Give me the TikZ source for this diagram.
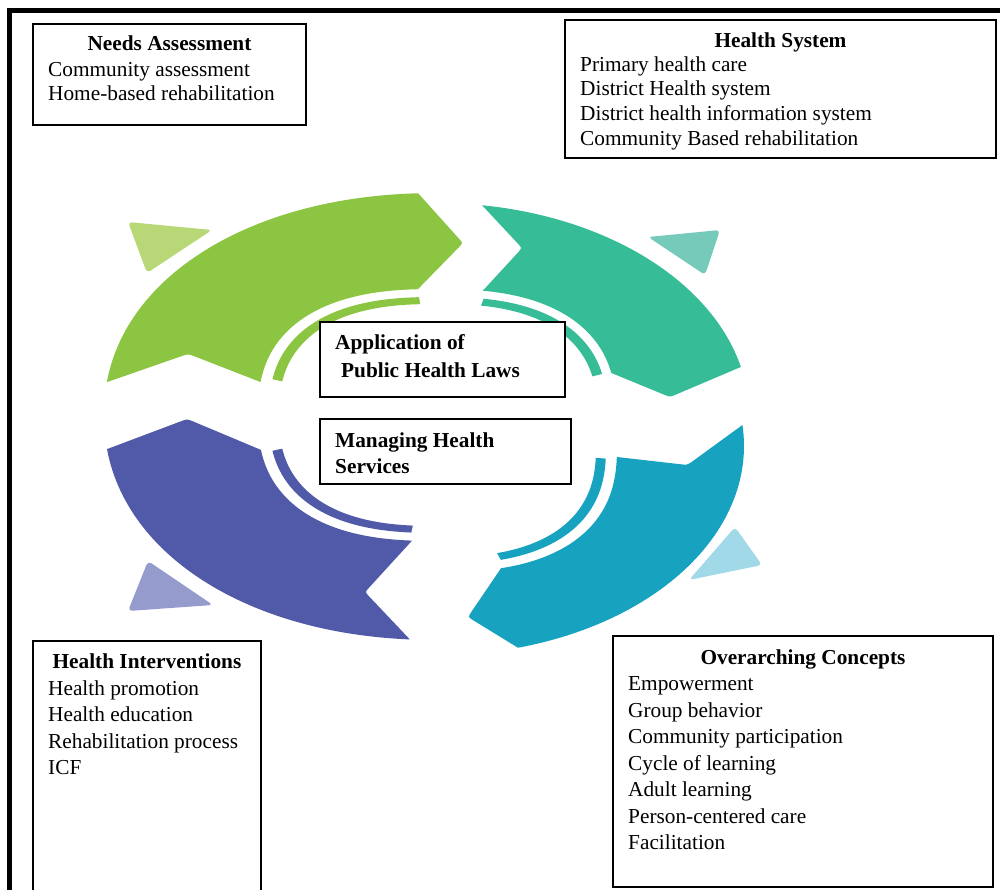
\documentclass[tikz,border=0pt]{standalone}
\usepackage{fontspec}
\setmainfont{Liberation Serif}
\definecolor{grA}{HTML}{8BC541}
\definecolor{grB}{HTML}{B8D878}
\definecolor{tlA}{HTML}{37BC98}
\definecolor{tlB}{HTML}{76CAB9}
\definecolor{blA}{HTML}{505AA8}
\definecolor{blB}{HTML}{959BCC}
\definecolor{cyA}{HTML}{17A2C0}
\definecolor{cyB}{HTML}{A1D9E8}
\begin{document}
\begin{tikzpicture}[x=1pt,y=-1pt,
  % superellipse helpers: exponent q = 1 gives a plain ellipse
  declare function={sc(\a,\q)=cos(\a)*(abs(cos(\a))+0.0001)^(\q-1);
                    ss(\a,\q)=sin(\a)*(abs(sin(\a))+0.0001)^(\q-1);},
  box/.style={draw=black, line width=1.2pt, fill=white, inner sep=0pt},
  txt/.style={inner sep=0pt, anchor=base west, font=\fontsize{21.3}{26}\selectfont},
  ttl/.style={inner sep=0pt, anchor=base, font=\fontsize{21.3}{26}\selectfont\bfseries},
  btx/.style={inner sep=0pt, anchor=base west, font=\fontsize{21.3}{26}\selectfont\bfseries}]
\useasboundingbox (0,0) rectangle (1000,890);

% outer frame (top and left rules)
\draw[line width=5pt] (9.8,900) -- (9.8,10.5) -- (1010,10.5);

% ---- cycle of four curved arrows ----
% green: left -> top
\fill[grA] plot[domain=187.7:267.2,samples=60,variable=\t] ({437+333*sc(\t,0.95)},{415+222*ss(\t,0.95)})
  -- (458.9,238.6) .. controls (463,243) .. (458.8,247.3)
  -- plot[domain=266.5:190.8,samples=60,variable=\t] ({437+179*sc(\t,0.8)},{415+126*ss(\t,0.8)})
  -- (193.7,356.0) .. controls (188,354) .. (182.3,355.9) -- cycle;
% teal: top -> right
\fill[tlA] plot[domain=280.5:345.3,samples=60,variable=\t] ({437+179*sc(\t,0.8)},{415+126*ss(\t,0.8)})
  -- (664.4,394.8) .. controls (670,397) .. (675.6,394.7)
  -- plot[domain=346.9:278.3,samples=60,variable=\t] ({437+312*sc(\t,1)},{415+212*ss(\t,1)})
  -- (517.9,243.6) .. controls (522,248) .. (518.0,252.5) -- cycle;
% blue: bottom -> left
\fill[blA] plot[domain=94.1:172.1,samples=60,variable=\t] ({437+333*sc(\t,0.95)},{415+225*ss(\t,0.95)})
  -- (181.4,421.1) .. controls (187,419) .. (192.6,421.2)
  -- plot[domain=168.4:94.9,samples=60,variable=\t] ({437+179*sc(\t,0.8)},{415+126*ss(\t,0.8)})
  -- (369.1,587.6) .. controls (365,592) .. (369.1,596.4) -- cycle;
% cyan: right -> bottom
\fill[cyA] plot[domain=-5.77:74.85,samples=60,variable=\t] ({438+306*sc(\t,1)},{446+209*ss(\t,1)})
  -- (473.1,620.2) .. controls (468,617) .. (471.3,612.0)
  -- plot[domain=74.26:2.72,samples=60,variable=\t] ({438+179*sc(\t,0.8)},{446+126*ss(\t,0.8)})
  -- (681.0,464.3) .. controls (687,465) .. (692.0,461.7) -- cycle;

% thin inner arcs
\fill[grA] plot[domain=193:266.5,samples=50,variable=\t] ({437+168*sc(\t,0.8)},{415+118*ss(\t,0.8)})
  -- plot[domain=266.5:193,samples=50,variable=\t] ({437+158*sc(\t,0.8)},{415+111*ss(\t,0.8)}) -- cycle;
\fill[tlA] plot[domain=281:344.5,samples=50,variable=\t] ({439+168*sc(\t,0.8)},{415+118*ss(\t,0.8)})
  -- plot[domain=344.5:281,samples=50,variable=\t] ({439+158*sc(\t,0.8)},{415+111*ss(\t,0.8)}) -- cycle;
\fill[blA] plot[domain=95.5:167,samples=50,variable=\t] ({437+168*sc(\t,0.8)},{415+118*ss(\t,0.8)})
  -- plot[domain=167:95.5,samples=50,variable=\t] ({437+158*sc(\t,0.8)},{415+111*ss(\t,0.8)}) -- cycle;
\fill[cyA] plot[domain=3.5:73,samples=50,variable=\t] ({438+168*sc(\t,0.8)},{446+118*ss(\t,0.8)})
  -- plot[domain=73:3.5,samples=50,variable=\t] ({438+158*sc(\t,0.8)},{446+111*ss(\t,0.8)}) -- cycle;

% light triangles
\fill[grB, rounded corners=4pt] (128,222) -- (212,230) -- (147,273) -- cycle;
\fill[tlB, rounded corners=4pt] (648,237) -- (720,230) -- (705,275) -- cycle;
\fill[blB, rounded corners=4pt] (148,561) -- (213,605) -- (128,611) -- cycle;
\fill[cyB, rounded corners=4pt] (735,527) -- (762,565) -- (689,580) -- cycle;

% ---- text boxes ----
\node[box, minimum width=273pt, minimum height=101pt] (needs) at (169.5,74.5) {};
\node[ttl] (needsT) at (169.5,51) {Needs Assessment};
\node[txt] (needs1) at (48,77) {Community assessment};
\node[txt] (needs2) at (48,101) {Home-based rehabilitation};

\node[box, minimum width=431pt, minimum height=138pt] (hsys) at (780.5,89) {};
\node[ttl] (hsysT) at (780.5,48) {Health System};
\node[txt] (hsys1) at (580,72) {Primary health care};
\node[txt] (hsys2) at (580,96) {District Health system};
\node[txt] (hsys3) at (580,121) {District health information system};
\node[txt] (hsys4) at (580,146) {Community Based rehabilitation};

\node[box, minimum width=245pt, minimum height=75pt] (laws) at (442.5,359.5) {};
\node[btx] (laws1) at (335,349) {Application of};
\node[btx] (laws2) at (341,377) {Public Health Laws};

\node[box, minimum width=251pt, minimum height=65pt] (manage) at (445.5,451.5) {};
\node[btx] (manage1) at (335,447) {Managing Health};
\node[btx] (manage2) at (335,473) {Services};

\node[box, minimum width=228pt, minimum height=258pt] (hint) at (147,770) {};
\node[ttl] (hintT) at (147,668) {Health Interventions};
\node[txt] (hint1) at (48,695) {Health promotion};
\node[txt] (hint2) at (48,721) {Health education};
\node[txt] (hint3) at (48,748) {Rehabilitation process};
\node[txt] (hint4) at (48,774) {ICF};

\node[box, minimum width=380pt, minimum height=251pt] (over) at (803,761.5) {};
\node[ttl] (overT) at (803,664) {Overarching Concepts};
\node[txt] (over1) at (628,690) {Empowerment};
\node[txt] (over2) at (628,717) {Group behavior};
\node[txt] (over3) at (628,743) {Community participation};
\node[txt] (over4) at (628,770) {Cycle of learning};
\node[txt] (over5) at (628,796) {Adult learning};
\node[txt] (over6) at (628,823) {Person-centered care};
\node[txt] (over7) at (628,849) {Facilitation};
\end{tikzpicture}
\end{document}
